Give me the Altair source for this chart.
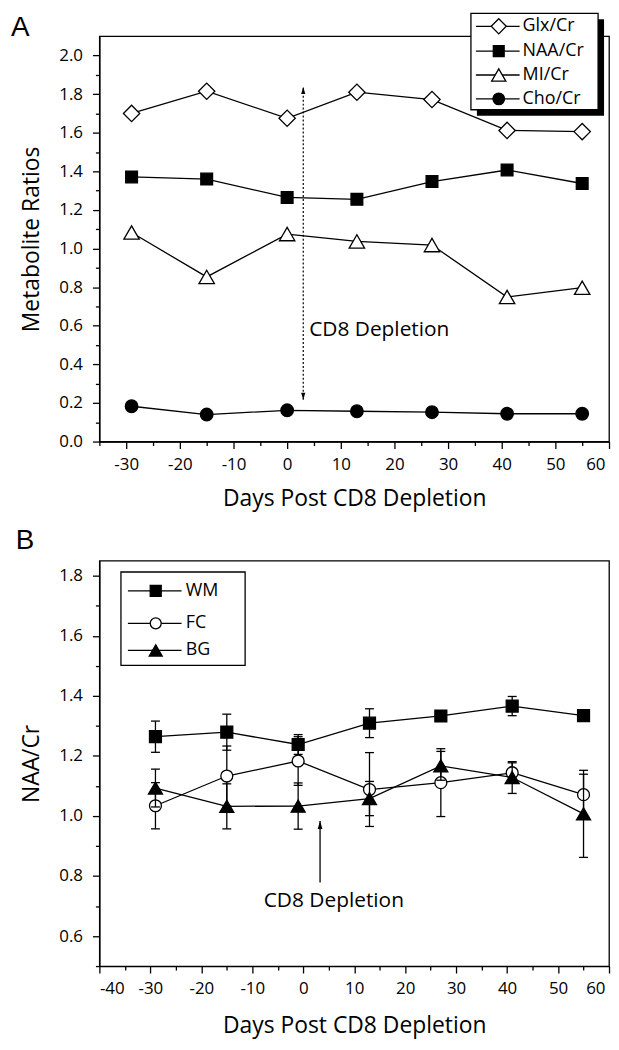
import altair as alt
import pandas as pd

FONT = "Open Sans"
LETTER_FONT = "Liberation Sans"

# ---------------- Panel A data ----------------
days_a = [-29, -15, 0, 13, 27, 41, 55]
glx_cr = [1.700, 1.815, 1.675, 1.810, 1.772, 1.612, 1.606]
naa_cr = [1.371, 1.360, 1.265, 1.255, 1.347, 1.407, 1.337]
mi_cr = [1.083, 0.853, 1.075, 1.037, 1.018, 0.749, 0.797]
cho_cr = [0.183, 0.140, 0.162, 0.157, 0.152, 0.144, 0.144]
names_a = ["Glx/Cr", "NAA/Cr", "MI/Cr", "Cho/Cr"]

# ---------------- Panel B data ----------------
days_b = [-29, -15, -1, 13, 27, 41, 55]
wm_mean = [1.264, 1.279, 1.238, 1.309, 1.333, 1.366, 1.334]
wm_err = [0.052, 0.060, 0.033, 0.048, 0.010, 0.032, 0.015]
fc_mean = [1.034, 1.133, 1.183, 1.088, 1.111, 1.144, 1.071]
fc_err = [0.077, 0.100, 0.081, 0.123, 0.113, 0.033, 0.068]
bg_mean = [1.093, 1.032, 1.033, 1.058, 1.167, 1.128, 1.007]
bg_err = [0.063, 0.075, 0.077, 0.057, 0.048, 0.053, 0.145]
names_b = ["WM", "FC", "BG"]

# ---------------- axis tick values ----------------
xa_ticks = list(range(-35, 61, 5))
ya_ticks = [round(0.1 * i, 1) for i in range(0, 21)]
xb_ticks = list(range(-40, 61, 5))
yb_ticks = [round(0.1 * i, 1) for i in range(5, 19)]

# ---------------- annotations ----------------
arrow_a_day = [3]
arrow_a_span = [0.217, 1.837]
note_a_pos = [4.1, 0.58]
arrow_b_day = [3.3]
arrow_b_span = [0.778, 0.983]
note_b_pos = [6.0, 0.715]
note_text = "CD8 Depletion"

# ---------------- styles ----------------
style_a = {
    "Glx/Cr": ("diamond", "white", 270),
    "NAA/Cr": ("square", "black", 140),
    "MI/Cr": ("triangle-up", "white", 240),
    "Cho/Cr": ("circle", "black", 160),
}
style_b = {
    "WM": ("square", "black", 144),
    "FC": ("circle", "white", 144),
    "BG": ("triangle-up", "black", 200),
}
UP = "M0,-1L0.6,1L-0.6,1Z"
DOWN = "M0,1L0.6,-1L-0.6,-1Z"
LW = 1.3
PW, PH = 513, 408


def x_axis(vals, title, tpad):
    return alt.Axis(
        values=vals, title=title, grid=False, labelOverlap=False,
        labelExpr="datum.value % 10 === 0 ? '' + datum.value : ''",
        tickSize={"condition": {"test": "datum.value % 10 === 0", "value": 7}, "value": 4},
        labelOffset={"condition": {"test": "datum.value === 60", "value": -4}, "value": 0},
        labelPadding=8, titlePadding=tpad,
    )


def y_axis(vals, title, tpad):
    return alt.Axis(
        values=vals, title=title, grid=False, labelOverlap=False,
        labelExpr="round(datum.value*10) % 2 === 0 ? format(datum.value, '.1f') : ''",
        tickSize={"condition": {"test": "round(datum.value*10) % 2 === 0", "value": 7}, "value": 4},
        labelPadding=10, titlePadding=tpad,
    )


one = pd.DataFrame({"k": [0]})


def legend_layers(entries, styles, box, shadow, line_x, mark_x, text_x, row_y, fsize):
    out = []
    x1, x2, y1, y2 = box
    if shadow:
        out.append(alt.Chart(one).mark_rect(color="black").encode(
            x=alt.value(x1 + shadow), x2=alt.value(x2 + shadow),
            y=alt.value(y1 + shadow), y2=alt.value(y2 + shadow)))
    out.append(alt.Chart(one).mark_rect(fill="white", stroke="black", strokeWidth=LW).encode(
        x=alt.value(x1), x2=alt.value(x2), y=alt.value(y1), y2=alt.value(y2)))
    for name, yy in zip(entries, row_y):
        shape, fill, size = styles[name]
        out.append(alt.Chart(one).mark_rule(color="black", strokeWidth=LW).encode(
            x=alt.value(line_x[0]), x2=alt.value(line_x[1]), y=alt.value(yy)))
        out.append(alt.Chart(one).mark_point(shape=shape, filled=True, fill=fill, stroke="black",
                                             strokeWidth=LW, size=size * 0.85, opacity=1).encode(
            x=alt.value(mark_x), y=alt.value(yy)))
        out.append(alt.Chart(pd.DataFrame({"t": [name]})).mark_text(
            align="left", baseline="middle", font=FONT, fontSize=fsize, color="black").encode(
            x=alt.value(text_x), y=alt.value(yy), text="t:N"))
    return out


# ================= Panel A =================
XA = alt.X("dA:Q", scale=alt.Scale(domain=[-35, 60], nice=False, zero=False),
           axis=x_axis(xa_ticks, "Days Post CD8 Depletion", 15))
YA = alt.Y("vA:Q", scale=alt.Scale(domain=[0, 2.1], nice=False, zero=False),
           axis=y_axis(ya_ticks, "Metabolite Ratios", 15))

la = []
arr_a = pd.DataFrame({"dA": arrow_a_day, "vA": [arrow_a_span[0]], "vA2": [arrow_a_span[1]]})
la.append(alt.Chart(arr_a).mark_rule(color="black", strokeWidth=1.2, strokeDash=[2, 2]).encode(
    x=XA, y=YA, y2="vA2:Q"))
la.append(alt.Chart(pd.DataFrame({"dA": arrow_a_day, "vA": [arrow_a_span[1]]})).mark_point(
    shape=UP, filled=True, color="black", size=49, opacity=1, yOffset=3.5).encode(x=XA, y=YA))
la.append(alt.Chart(pd.DataFrame({"dA": arrow_a_day, "vA": [arrow_a_span[0]]})).mark_point(
    shape=DOWN, filled=True, color="black", size=49, opacity=1, yOffset=-3.5).encode(x=XA, y=YA))
la.append(alt.Chart(pd.DataFrame({"dA": [note_a_pos[0]], "vA": [note_a_pos[1]], "t": [note_text]})).mark_text(
    align="left", baseline="middle", font=FONT, fontSize=21, color="black").encode(x=XA, y=YA, text="t:N"))

for name, vals in zip(names_a, [glx_cr, naa_cr, mi_cr, cho_cr]):
    shape, fill, size = style_a[name]
    df = pd.DataFrame({"dA": days_a, "vA": vals})
    la.append(alt.Chart(df).mark_line(color="black", strokeWidth=LW).encode(x=XA, y=YA))
    la.append(alt.Chart(df).mark_point(shape=shape, filled=True, fill=fill, stroke="black",
                                       strokeWidth=LW, size=size, opacity=1).encode(x=XA, y=YA))

la += legend_layers(names_a, style_a, box=(374, 502, -23, 74), shadow=6,
                    line_x=(379, 423), mark_x=402, text_x=426,
                    row_y=[-10, 15, 39, 63], fsize=18)
la.append(alt.Chart(pd.DataFrame({"t": ["A"]})).mark_text(
    align="left", baseline="alphabetic", font=LETTER_FONT, fontSize=28, color="black").encode(
    x=alt.value(-89), y=alt.value(0), text="t:N"))

chart_a = alt.layer(*la).properties(width=PW, height=PH)

# ================= Panel B =================
XB = alt.X("dB:Q", scale=alt.Scale(domain=[-40, 60], nice=False, zero=False),
           axis=x_axis(xb_ticks, "Days Post CD8 Depletion", 18))
YB_SCALE = alt.Scale(domain=[0.5, 1.85], nice=False, zero=False)
YB_AXIS = y_axis(yb_ticks, "NAA/Cr", 15)
YB = alt.Y("vB:Q", scale=YB_SCALE, axis=YB_AXIS)

lb = []
for name, mean, err in zip(names_b, [wm_mean, fc_mean, bg_mean], [wm_err, fc_err, bg_err]):
    shape, fill, size = style_b[name]
    df = pd.DataFrame({"dB": days_b, "vB": mean, "e": err})
    df["lo"] = df["vB"] - df["e"]
    df["hi"] = df["vB"] + df["e"]
    lb.append(alt.Chart(df).mark_line(color="black", strokeWidth=LW).encode(x=XB, y=YB))
    lb.append(alt.Chart(df).mark_rule(color="black", strokeWidth=LW).encode(
        x=XB, y=alt.Y("lo:Q", scale=YB_SCALE, axis=YB_AXIS), y2="hi:Q"))
    for col in ["lo", "hi"]:
        lb.append(alt.Chart(df).mark_tick(orient="horizontal", size=9, thickness=LW, color="black",
                                          opacity=1).encode(
            x=XB, y=alt.Y(f"{col}:Q", scale=YB_SCALE, axis=YB_AXIS)))
    lb.append(alt.Chart(df).mark_point(shape=shape, filled=True, fill=fill, stroke="black",
                                       strokeWidth=LW, size=size, opacity=1).encode(x=XB, y=YB))

arr_b = pd.DataFrame({"dB": arrow_b_day, "vB": [arrow_b_span[0]], "vB2": [arrow_b_span[1]]})
lb.append(alt.Chart(arr_b).mark_rule(color="black", strokeWidth=1.3).encode(x=XB, y=YB, y2="vB2:Q"))
lb.append(alt.Chart(pd.DataFrame({"dB": arrow_b_day, "vB": [arrow_b_span[1]]})).mark_point(
    shape=UP, filled=True, color="black", size=64, opacity=1, yOffset=4).encode(x=XB, y=YB))
lb.append(alt.Chart(pd.DataFrame({"dB": [note_b_pos[0]], "vB": [note_b_pos[1]], "t": [note_text]})).mark_text(
    align="center", baseline="middle", font=FONT, fontSize=21, color="black").encode(x=XB, y=YB, text="t:N"))

lb += legend_layers(names_b, style_b, box=(21.7, 146.7, 11.3, 105.3), shadow=0,
                    line_x=(28.7, 82.7), mark_x=56.7, text_x=87,
                    row_y=[30.3, 63, 90.3], fsize=18)
lb.append(alt.Chart(pd.DataFrame({"t": ["B"]})).mark_text(
    align="left", baseline="alphabetic", font=LETTER_FONT, fontSize=28, color="black").encode(
    x=alt.value(-84.3), y=alt.value(-11.7), text="t:N"))

chart_b = alt.layer(*lb).properties(width=PW, height=PH)

chart = alt.vconcat(chart_a, chart_b, spacing=15).resolve_scale(
    x="independent", y="independent"
).properties(
    padding={"left": 2, "top": 0, "right": 0, "bottom": 0}
).configure_view(
    stroke="black", strokeWidth=LW
).configure_axis(
    labelFont=FONT, labelFontSize=17, labelColor="black",
    titleFont=FONT, titleFontSize=23, titleFontWeight="normal", titleColor="black",
    domainColor="black", domainWidth=LW, tickColor="black", tickWidth=LW,
)

chart.save("out.html", embed_options={"renderer": "svg", "actions": False})
